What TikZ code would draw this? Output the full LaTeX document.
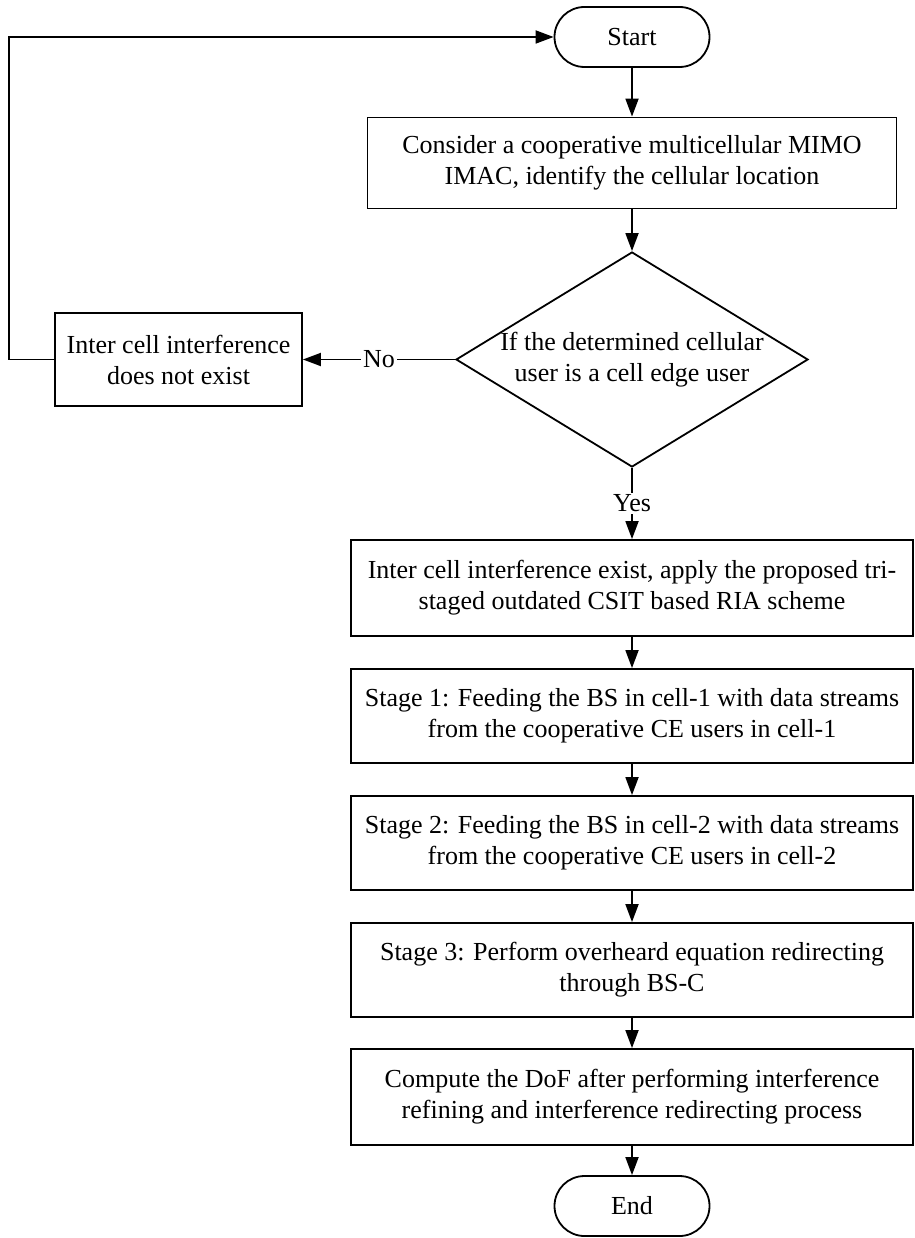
\documentclass[tikz,border=0pt]{standalone}
\usepackage{fontspec}
\setmainfont{Liberation Serif}
\usetikzlibrary{shapes.geometric,arrows.meta}
\tikzset{
  base/.style={draw, line width=1.8pt, align=center, font=\fontsize{26}{31}\selectfont, inner sep=0pt},
  procbox/.style={base, rectangle, minimum height=92pt},
  termbox/.style={base, rectangle, rounded corners=30pt, minimum width=155pt, minimum height=60pt},
  decbox/.style={base, diamond, minimum width=352pt, minimum height=215pt},
  conn/.style={line width=1.8pt, -{Triangle[length=18pt,width=13pt]}},
  lbl/.style={fill=white, inner sep=2pt, font=\fontsize{26}{31}\selectfont}
}
\begin{document}
\begin{tikzpicture}[x=1pt,y=-1pt]
\useasboundingbox (0,0) rectangle (914,1238);
\node[termbox] (start) at (632,37) {Start};
\node[procbox, minimum width=529pt, minimum height=91pt] (b1) at (632,163) {Consider a cooperative multicellular MIMO\\IMAC, identify the cellular location};
\node[decbox] (d) at (632,359.5) {\makebox[0pt]{\begin{tabular}{@{}c@{}}If the determined cellular\\user is a cell edge user\end{tabular}}};
\node[procbox, minimum width=247pt, minimum height=93pt] (lb) at (178.5,359.5) {Inter cell interference\\does not exist};
\node[procbox, minimum width=562pt, minimum height=96pt] (b2) at (632,588) {Inter cell interference exist, apply the proposed tri-\\staged outdated CSIT based RIA scheme};
\node[procbox, minimum width=562pt, minimum height=94pt] (b3) at (632,716) {Stage 1: Feeding the BS in cell-1 with data streams\\from the cooperative CE users in cell-1};
\node[procbox, minimum width=562pt, minimum height=94pt] (b4) at (632,843) {Stage 2: Feeding the BS in cell-2 with data streams\\from the cooperative CE users in cell-2};
\node[procbox, minimum width=562pt, minimum height=94pt] (b5) at (632,970) {Stage 3: Perform overheard equation redirecting\\through BS-C};
\node[procbox, minimum width=562pt, minimum height=96pt] (b6) at (632,1097) {Compute the DoF after performing interference\\refining and interference redirecting process};
\node[termbox] (end) at (632,1206) {End};
\coordinate (lp) at (9,359.5);
\draw[conn] (start) -- (b1);
\draw[conn] (b1) -- (d);
\draw[conn] (d.west) -- node[lbl, midway] {No} (lb.east);
\draw[conn] (lb.west) -- (lp) |- (start.west);
\draw[conn] (d.south) -- node[lbl, midway] {Yes} (b2.north);
\draw[conn] (b2) -- (b3);
\draw[conn] (b3) -- (b4);
\draw[conn] (b4) -- (b5);
\draw[conn] (b5) -- (b6);
\draw[conn] (b6) -- (end);
\end{tikzpicture}
\end{document}
